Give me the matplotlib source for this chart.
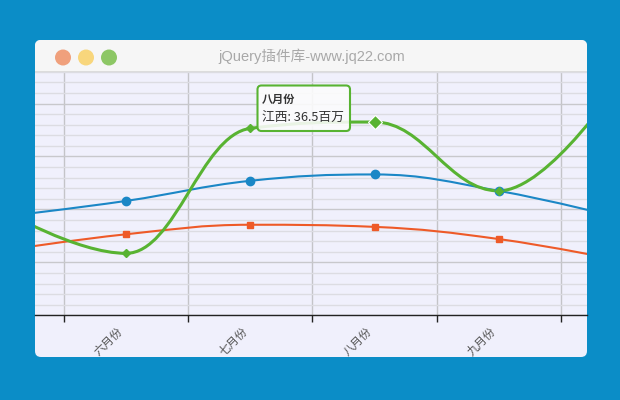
import matplotlib
matplotlib.use('Agg')
import matplotlib.pyplot as plt
from matplotlib.path import Path
from matplotlib.patches import PathPatch, FancyBboxPatch, Circle, Rectangle
from matplotlib.transforms import IdentityTransform, ScaledTranslation

plt.rcParams['font.family'] = ['Noto Sans CJK SC', 'DejaVu Sans']

# ---- data ----
categories = ['五月份', '六月份', '七月份', '八月份', '九月份', '十月份']
series_names = ['湖北', '湖南', '江西']
blue_values = [18.6, 21.6, 25.4, 26.6, 23.5, 18.3]
orange_values = [12.2, 15.3, 17.1, 16.7, 14.4, 10.3]
green_values = [20.0, 11.7, 35.3, 36.5, 23.5, 45.0]
tooltip_category = '八月份'
tooltip_series = '江西'
tooltip_unit = '百万'
page_title = 'jQuery插件库-www.jq22.com'

W, H = 620, 400
BG = '#0b8dc7'
PLOT_BG = '#f0f0fc'
BLUE = '#1b87c6'
ORANGE = '#ee5a28'
GREEN = '#58b332'


def hc_spline(xs, ys, smoothing=1.5):
    n = len(xs)
    lc = [(xs[i], ys[i]) for i in range(n)]
    rc = [(xs[i], ys[i]) for i in range(n)]
    d = smoothing + 1
    for i in range(1, n - 1):
        px, py = xs[i], ys[i]
        lx, ly = xs[i - 1], ys[i - 1]
        nx, ny = xs[i + 1], ys[i + 1]
        lcx = (smoothing * px + lx) / d
        lcy = (smoothing * py + ly) / d
        rcx = (smoothing * px + nx) / d
        rcy = (smoothing * py + ny) / d
        corr = ((rcy - lcy) * (rcx - px)) / (rcx - lcx) + py - rcy
        lcy += corr
        rcy += corr
        if lcy > ly and lcy > py:
            lcy = max(ly, py); rcy = 2 * py - lcy
        elif lcy < ly and lcy < py:
            lcy = min(ly, py); rcy = 2 * py - lcy
        if rcy > ny and rcy > py:
            rcy = max(ny, py); lcy = 2 * py - rcy
        elif rcy < ny and rcy < py:
            rcy = min(ny, py); lcy = 2 * py - rcy
        lc[i] = (lcx, lcy)
        rc[i] = (rcx, rcy)
    verts = [(xs[0], ys[0])]
    codes = [Path.MOVETO]
    for i in range(1, n):
        verts += [rc[i - 1], lc[i], (xs[i], ys[i])]
        codes += [Path.CURVE4] * 3
    return Path(verts, codes)


fig = plt.figure(figsize=(W / 100, H / 100), dpi=100)
fig.patch.set_facecolor(BG)

ident = IdentityTransform()


def box(x0, y0, x1, y1):
    # pixel coords, top-left origin
    return (x0, H - y1), x1 - x0, y1 - y0


# window
(wx, wy), ww, wh = box(35, 40, 587, 357)
window = FancyBboxPatch((wx, wy), ww, wh, boxstyle='round,pad=0,rounding_size=6',
                        transform=ident, fc=PLOT_BG, ec='none', zorder=-1)
fig.add_artist(window)
(tx, ty), tw, th = box(35, 40, 587, 71)
fig.add_artist(FancyBboxPatch((tx, ty), tw, th, boxstyle='round,pad=0,rounding_size=6',
                              transform=ident, fc='#f6f6f6', ec='none', zorder=2))
(tx, ty), tw, th = box(35, 60, 587, 71)
fig.add_artist(Rectangle((tx, ty), tw, th, transform=ident, fc='#f6f6f6', ec='none', zorder=2))
fig.add_artist(Rectangle((35, H - 71.5), 552, 1, transform=ident, fc='#dcdcdc', ec='none', zorder=2))
for cx, col in [(63, '#f0a07c'), (86, '#f8d67c'), (109, '#8dc765')]:
    fig.add_artist(Circle((cx, H - 57.5), 8, transform=ident, fc=col, ec='none', zorder=3))
fig.text(311.5 / W, 1 - 56.5 / H, page_title, ha='center', va='center', fontsize=10.5,
         color='#a8a8a8', family=['Liberation Sans', 'Noto Sans CJK SC'], zorder=3)

# axes
ax = fig.add_axes([35 / W, 1 - 315.3 / H, 552 / W, (315.3 - 71) / H])
ax.set_facecolor(PLOT_BG)
x = list(range(len(categories)))
ax.set_xlim(1 - 91 / 124.25, 1 + 461 / 124.25)
ax.set_ylim(0, (315.3 - 71) / 5.295)

ax.set_xticks(x[1:5])
ax.set_xticklabels(categories[1:5], rotation=45, ha='right', va='center',
                   rotation_mode='anchor', fontsize=8.3, color='#555555')
ax.set_xticks([i + 0.5 for i in range(0, 5)], minor=True)
ax.tick_params(axis='x', which='major', length=0, pad=10)
ax.tick_params(axis='x', which='minor', length=5, width=1, color='#222222', direction='out')
ax.set_yticks(range(0, 50, 10))
ax.set_yticks(range(0, 48, 2), minor=True)
ax.tick_params(axis='y', which='both', length=0, labelleft=False)
ax.grid(axis='x', which='minor', color='#c4c4c8', lw=1)
ax.grid(axis='y', which='major', color='#c8c8cc', lw=1)
ax.grid(axis='y', which='minor', color='#dcdce2', lw=1)
ax.set_axisbelow(True)
for s in ['top', 'left', 'right']:
    ax.spines[s].set_visible(False)
ax.spines['bottom'].set_color('#222222')
ax.spines['bottom'].set_linewidth(1)
shift = ScaledTranslation(-5 / 100, 0, fig.dpi_scale_trans)
for lab in ax.get_xticklabels():
    lab.set_transform(lab.get_transform() + shift)
    lab.set_clip_path(window)

for vals, col, lw in [(blue_values, BLUE, 1.5), (orange_values, ORANGE, 1.5), (green_values, GREEN, 2.2)]:
    ax.add_patch(PathPatch(hc_spline(x, vals), fc='none', ec=col, lw=lw, zorder=3))

ax.plot(x, blue_values, ls='none', marker='o', ms=6, color=BLUE, zorder=4)
ax.plot(x, orange_values, ls='none', marker='s', ms=4.5, color=ORANGE, zorder=4)
ax.plot(x, green_values, ls='none', marker='D', ms=4.5, color=GREEN, zorder=5)
hi = categories.index(tooltip_category)
ax.plot([x[hi]], [green_values[hi]], ls='none', marker='D', ms=7.5, color=GREEN,
        mec='white', mew=0.8, zorder=6)

# tooltip
(bx, by), bw, bh = box(257.5, 85.5, 350, 131)
fig.add_artist(FancyBboxPatch((bx + 1, by - 1), bw, bh, boxstyle='round,pad=0,rounding_size=4',
                              transform=ident, fc='#000000', alpha=0.08, ec='none', zorder=7))
fig.add_artist(FancyBboxPatch((bx, by), bw, bh, boxstyle='round,pad=0,rounding_size=4',
                              transform=ident, fc='white', alpha=0.88, ec='none', zorder=8))
fig.add_artist(FancyBboxPatch((bx, by), bw, bh, boxstyle='round,pad=0,rounding_size=4',
                              transform=ident, fc='none', ec=GREEN, lw=1.5, zorder=9))
fig.text(262 / W, 1 - 99 / H, tooltip_category, ha='left', va='center', fontsize=8,
         fontweight='bold', color='#333333', zorder=10)
fig.text(261.5 / W, 1 - 117 / H, f'{tooltip_series}: {green_values[hi]}{tooltip_unit}',
         ha='left', va='center', fontsize=9.2, color='#333333', zorder=10)

fig.savefig('out.png', dpi=100, facecolor=BG)
